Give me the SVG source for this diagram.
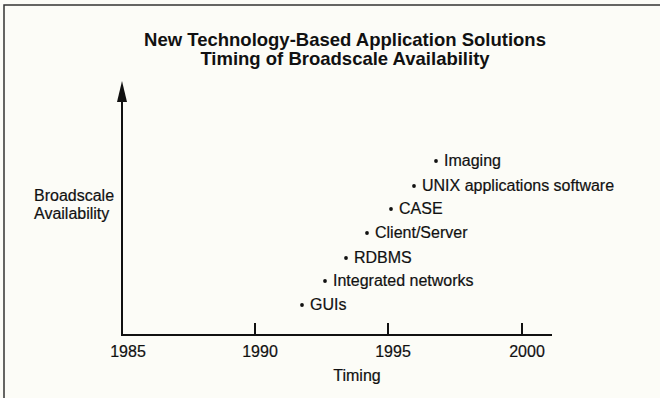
<svg xmlns="http://www.w3.org/2000/svg" width="660" height="398" viewBox="0 0 660 398">
  <style>
    .title { font-family: "Liberation Sans", Arial, sans-serif; font-size: 18.5px; font-weight: bold; fill: #111; text-anchor: middle; }
    .lbl { font-family: "Liberation Sans", Arial, sans-serif; font-size: 16px; fill: #111; stroke: #111; stroke-width: 0.2; }
    .yr { font-family: "Liberation Sans", Arial, sans-serif; font-size: 16px; fill: #111; stroke: #111; stroke-width: 0.2; text-anchor: middle; }
    .axis { stroke: #111; stroke-width: 2; fill: none; }
    .frame { stroke: #333; stroke-width: 1.5; fill: none; }
    .dot { fill: #111; }
  </style>

  <rect width="660" height="398" fill="#fcfcf7"/>
  <path class="frame" d="M4,398 V5 H660"/>

  <g id="title">
    <text class="title" x="345" y="46">New Technology-Based Application Solutions</text>
    <text class="title" x="345" y="65">Timing of Broadscale Availability</text>
  </g>

  <g id="axes">
    <line class="axis" x1="122" y1="336" x2="122" y2="100"/>
    <path d="M122,81 L117,102 L127,102 Z" fill="#111"/>
    <line class="axis" x1="121" y1="335" x2="552" y2="335"/>
    <line class="axis" x1="255" y1="323" x2="255" y2="335"/>
    <line class="axis" x1="388" y1="323" x2="388" y2="335"/>
    <line class="axis" x1="522" y1="323" x2="522" y2="335"/>
    <text class="yr" x="128" y="357">1985</text>
    <text class="yr" x="260" y="357">1990</text>
    <text class="yr" x="393" y="357">1995</text>
    <text class="yr" x="527" y="357">2000</text>
    <text class="yr" x="357" y="381">Timing</text>
    <text class="lbl" x="34" y="201">Broadscale</text>
    <text class="lbl" x="34" y="219">Availability</text>
  </g>

  <g id="item-imaging">
    <circle class="dot" cx="436" cy="161" r="1.9"/>
    <text class="lbl" x="444" y="166">Imaging</text>
  </g>
  <g id="item-unix">
    <circle class="dot" cx="414" cy="186" r="1.9"/>
    <text class="lbl" x="422" y="191">UNIX applications software</text>
  </g>
  <g id="item-case">
    <circle class="dot" cx="391" cy="209" r="1.9"/>
    <text class="lbl" x="399" y="214">CASE</text>
  </g>
  <g id="item-client-server">
    <circle class="dot" cx="367" cy="233" r="1.9"/>
    <text class="lbl" x="375" y="238">Client/Server</text>
  </g>
  <g id="item-rdbms">
    <circle class="dot" cx="346" cy="258" r="1.9"/>
    <text class="lbl" x="354" y="263">RDBMS</text>
  </g>
  <g id="item-networks">
    <circle class="dot" cx="325" cy="281" r="1.9"/>
    <text class="lbl" x="333" y="286">Integrated networks</text>
  </g>
  <g id="item-guis">
    <circle class="dot" cx="302" cy="305" r="1.9"/>
    <text class="lbl" x="310" y="310">GUIs</text>
  </g>
</svg>
